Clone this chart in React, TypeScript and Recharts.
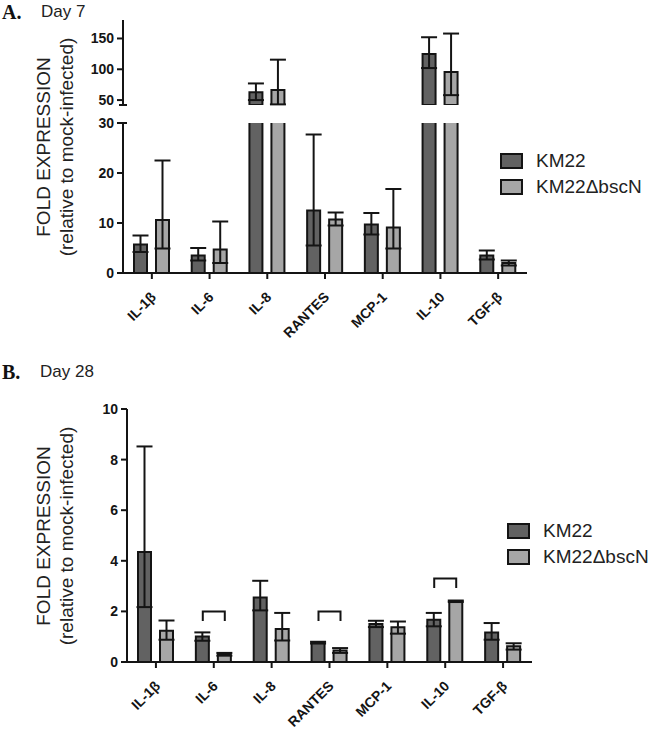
import React from "react";
import {
  Bar,
  BarChart,
  ComposedChart,
  ErrorBar,
  Line,
  XAxis,
  YAxis,
} from "recharts";

const CYTOKINES = ["IL-1β", "IL-6", "IL-8", "RANTES", "MCP-1", "IL-10", "TGF-β"];
const SERIES = ["KM22", "KM22ΔbscN"];
const COLORS = ["#626262", "#a6a6a6"];

// Day 7 (mean, lower and upper whisker ends)
const D7_KM22 = [5.7, 3.5, 62.6, 12.5, 9.7, 125, 3.5];
const D7_KM22_LO = [4.2, 2.5, 50, 5.5, 7.7, 102, 2.7];
const D7_KM22_HI = [7.5, 5.0, 77, 27.7, 12.0, 152, 4.5];
const D7_BSCN = [10.6, 4.7, 66.4, 10.7, 9.1, 95.4, 2.0];
const D7_BSCN_LO = [4.9, 2.0, 43, 9.5, 4.9, 58, 1.5];
const D7_BSCN_HI = [22.5, 10.3, 115.6, 12.1, 16.8, 158, 2.5];

// Day 28
const D28_KM22 = [4.35, 1.01, 2.55, 0.77, 1.5, 1.67, 1.17];
const D28_KM22_LO = [2.17, 0.84, 2.04, 0.73, 1.38, 1.41, 0.88];
const D28_KM22_HI = [8.52, 1.17, 3.21, 0.8, 1.63, 1.94, 1.54];
const D28_BSCN = [1.24, 0.32, 1.3, 0.45, 1.37, 2.4, 0.62];
const D28_BSCN_LO = [0.88, 0.25, 0.85, 0.36, 1.12, 2.37, 0.49];
const D28_BSCN_HI = [1.64, 0.36, 1.94, 0.55, 1.6, 2.43, 0.74];
const D28_BRACKET = [null, 2.0, null, 2.0, null, 3.3, null];

// broken axis for day 7
const LOW_DOMAIN = [0, 30];
const LOW_TICKS = [0, 10, 20, 30];
const HIGH_DOMAIN = [42, 180];
const HIGH_TICKS = [50, 100, 150];
const D28_TICKS = [0, 2, 4, 6, 8, 10];

const FONT = "'Liberation Sans', Arial, sans-serif";
const INK = "#141414";

const err = (v: number, lo: number, hi: number) => [v - lo, hi - v];

const upperRows = CYTOKINES.map((name, i) => ({
  name,
  km22: D7_KM22[i] >= HIGH_DOMAIN[0] ? D7_KM22[i] : null,
  km22Err: D7_KM22[i] >= HIGH_DOMAIN[0] ? err(D7_KM22[i], D7_KM22_LO[i], D7_KM22_HI[i]) : undefined,
  bscn: D7_BSCN[i] >= HIGH_DOMAIN[0] ? D7_BSCN[i] : null,
  bscnErr: D7_BSCN[i] >= HIGH_DOMAIN[0] ? err(D7_BSCN[i], D7_BSCN_LO[i], D7_BSCN_HI[i]) : undefined,
}));

const lowerRows = CYTOKINES.map((name, i) => ({
  name,
  km22: D7_KM22[i],
  km22Err: D7_KM22[i] <= LOW_DOMAIN[1] ? err(D7_KM22[i], D7_KM22_LO[i], D7_KM22_HI[i]) : undefined,
  bscn: D7_BSCN[i],
  bscnErr: D7_BSCN[i] <= LOW_DOMAIN[1] ? err(D7_BSCN[i], D7_BSCN_LO[i], D7_BSCN_HI[i]) : undefined,
}));

const day28Rows = CYTOKINES.map((name, i) => ({
  name,
  km22: D28_KM22[i],
  km22Err: err(D28_KM22[i], D28_KM22_LO[i], D28_KM22_HI[i]),
  bscn: D28_BSCN[i],
  bscnErr: err(D28_BSCN[i], D28_BSCN_LO[i], D28_BSCN_HI[i]),
  bracket: D28_BRACKET[i],
}));

const tickStyle = { fontFamily: FONT, fontSize: 14, fontWeight: 700, fill: INK };
const axisStyle = { stroke: INK, strokeWidth: 2 };

function XTick({ x, y, payload }: any) {
  const tx = x + 5;
  const ty = y + 17;
  return (
    <text
      x={tx}
      y={ty}
      transform={`rotate(-45, ${tx}, ${ty})`}
      textAnchor="end"
      style={{ fontFamily: FONT, fontSize: 14, fontWeight: 700, fill: INK }}
    >
      {payload.value}
    </text>
  );
}

function bracketDot(props: any) {
  const { cx, cy, index, value } = props;
  if (value == null || cy == null || isNaN(cy)) return <g key={`b${index}`} />;
  return (
    <path
      key={`b${index}`}
      d={`M${cx - 11},${cy + 9.5} V${cy} H${cx + 11} V${cy + 9.5}`}
      fill="none"
      stroke={INK}
      strokeWidth={2}
    />
  );
}

function Bars() {
  return [
    <Bar key="a" dataKey="km22" name={SERIES[0]} fill={COLORS[0]} stroke={INK} strokeWidth={2} barSize={13} isAnimationActive={false}>
      <ErrorBar dataKey="km22Err" width={8} stroke={INK} strokeWidth={2} direction="y" />
    </Bar>,
    <Bar key="b" dataKey="bscn" name={SERIES[1]} fill={COLORS[1]} stroke={INK} strokeWidth={2} barSize={13} isAnimationActive={false}>
      <ErrorBar dataKey="bscnErr" width={8} stroke={INK} strokeWidth={2} direction="y" />
    </Bar>,
  ];
}

function Legend({ left, top }: { left: number; top: number }) {
  return (
    <div style={{ position: "absolute", left, top }}>
      {SERIES.map((s, i) => (
        <div key={s} style={{ display: "flex", alignItems: "center", height: 26 }}>
          <span
            style={{
              width: 19,
              height: 12,
              background: COLORS[i],
              border: `2px solid ${INK}`,
              marginRight: 13,
            }}
          />
          <span style={{ fontFamily: FONT, fontSize: 19, color: "#222" }}>{s}</span>
        </div>
      ))}
    </div>
  );
}

function YLabel({ cx, cy }: { cx: number; cy: number }) {
  const st = { fontFamily: FONT, fontSize: 19, fill: "#222" };
  return (
    <g>
      <text x={cx - 23} y={cy} transform={`rotate(-90, ${cx - 23}, ${cy})`} textAnchor="middle" style={st}>
        FOLD EXPRESSION
      </text>
      <text x={cx} y={cy} transform={`rotate(-90, ${cx}, ${cy})`} textAnchor="middle" style={st}>
        (relative to mock-infected)
      </text>
    </g>
  );
}

export default function App() {
  return (
    <div style={{ position: "absolute", left: 0, top: 0, width: 650, height: 730, background: "#fff", overflow: "hidden" }}>
      {/* Day 7, upper segment */}
      <div style={{ position: "absolute", left: 0, top: 0 }}>
        <BarChart width={540} height={110} data={upperRows} margin={{ top: 20, right: 13, bottom: 5, left: 63 }} barGap={9}>
          <XAxis dataKey="name" hide />
          <YAxis
            domain={HIGH_DOMAIN}
            ticks={HIGH_TICKS}
            allowDataOverflow
            width={60}
            tick={tickStyle}
            tickSize={6}
            tickMargin={3}
            axisLine={axisStyle}
            tickLine={axisStyle}
          />
          {Bars()}
        </BarChart>
      </div>

      {/* Day 7, lower segment */}
      <div style={{ position: "absolute", left: 0, top: 100 }}>
        <BarChart width={540} height={260} data={lowerRows} margin={{ top: 23, right: 13, bottom: 0, left: 63 }} barGap={9}>
          <XAxis
            dataKey="name"
            height={87}
            interval={0}
            tick={<XTick />}
            tickSize={6}
            axisLine={axisStyle}
            tickLine={axisStyle}
          />
          <YAxis
            domain={LOW_DOMAIN}
            ticks={LOW_TICKS}
            allowDataOverflow
            width={60}
            tick={tickStyle}
            tickSize={6}
            tickMargin={3}
            axisLine={axisStyle}
            tickLine={axisStyle}
          />
          {Bars()}
        </BarChart>
      </div>

      {/* Day 28 */}
      <div style={{ position: "absolute", left: 0, top: 380 }}>
        <ComposedChart width={545} height={350} data={day28Rows} margin={{ top: 29, right: 13, bottom: 0, left: 67 }} barGap={9}>
          <XAxis
            dataKey="name"
            height={68}
            interval={0}
            tick={<XTick />}
            tickSize={6}
            axisLine={axisStyle}
            tickLine={axisStyle}
          />
          <YAxis
            domain={[0, 10]}
            ticks={D28_TICKS}
            width={60}
            tick={tickStyle}
            tickSize={6}
            tickMargin={3}
            axisLine={axisStyle}
            tickLine={axisStyle}
          />
          {Bars()}
          <Line
            dataKey="bracket"
            stroke="none"
            dot={bracketDot}
            activeDot={false}
            legendType="none"
            isAnimationActive={false}
          />
        </ComposedChart>
      </div>

      <Legend left={500} top={148} />
      <Legend left={507} top={518} />

      <svg width={650} height={730} style={{ position: "absolute", left: 0, top: 0, pointerEvents: "none" }}>
        <text x={2} y={19} style={{ fontFamily: "'Liberation Serif', 'Times New Roman', serif", fontSize: 20, fontWeight: 700, fill: "#111" }}>
          A.
        </text>
        <text x={41} y={17} style={{ fontFamily: FONT, fontSize: 17, fill: "#222" }}>
          Day 7
        </text>
        <text x={2} y={379} style={{ fontFamily: "'Liberation Serif', 'Times New Roman', serif", fontSize: 20, fontWeight: 700, fill: "#111" }}>
          B.
        </text>
        <text x={40} y={377} style={{ fontFamily: FONT, fontSize: 17, fill: "#222" }}>
          Day 28
        </text>
        <YLabel cx={73} cy={147} />
        <YLabel cx={73} cy={536} />
        {/* axis break marks */}
        <line x1={119} x2={127} y1={105} y2={105} stroke={INK} strokeWidth={2} />
        <line x1={122} x2={127} y1={123} y2={123} stroke={INK} strokeWidth={2} />
      </svg>
    </div>
  );
}
